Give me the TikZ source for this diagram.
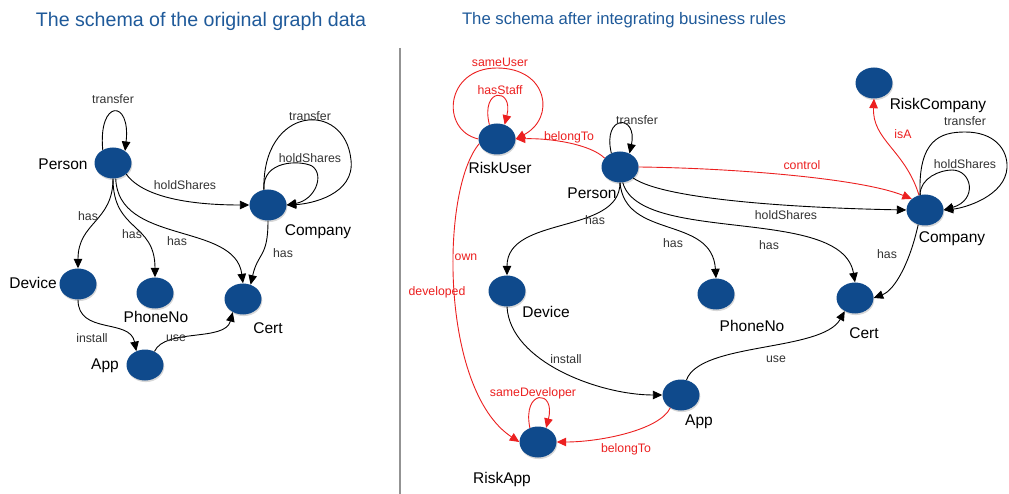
\documentclass[tikz,border=0pt]{standalone}
\usepackage{fontspec}
\setmainfont{Liberation Sans}
\usetikzlibrary{shapes.geometric,arrows.meta,shadows}
\definecolor{nodeblue}{HTML}{0F4A8C}
\definecolor{titleblue}{HTML}{1F5A9A}
\definecolor{rulered}{HTML}{EC2020}
\definecolor{labgray}{HTML}{333333}
\begin{document}
\begin{tikzpicture}[x=1pt,y=-1pt,
  nd/.style={ellipse,fill=nodeblue,minimum width=37pt,minimum height=31pt,inner sep=0pt,
    drop shadow={shadow xshift=0.8pt,shadow yshift=-1.6pt,opacity=0.3,fill=gray}},
  nlab/.style={font=\fontsize{15.5}{17}\selectfont,text=black,inner sep=0pt},
  elab/.style={font=\fontsize{12.3}{14}\selectfont,text=labgray,inner sep=0pt},
  rlab/.style={font=\fontsize{12.3}{14}\selectfont,text=rulered,inner sep=0pt},
  ttl/.style={text=titleblue,inner sep=0pt},
  ed/.style={draw=black,line width=0.9pt,-{Triangle[length=9.5pt,width=8.5pt]}},
  red/.style={draw=rulered,line width=0.9pt,-{Triangle[length=9.5pt,width=8.5pt]}}]
\useasboundingbox (0,0) rectangle (1009,494);
\fill[white] (0,0) rectangle (1009,494);

% titles and divider
\node[ttl,font=\fontsize{19.6}{22}\selectfont] (t1) at (201,21) {The schema of the original graph data};
\node[ttl,font=\fontsize{16.7}{20}\selectfont] (t2) at (624,20) {The schema after integrating business rules};
\coordinate (dv1) at (400,48);
\coordinate (dv2) at (400,494);
\draw[draw=gray!85,line width=2.8pt] (dv1) -- (dv2);

% ---------------- left graph ----------------
\node[nd] (p1) at (113,163) {};
\node[nd] (c1) at (268,205) {};
\node[nd] (d1) at (78,284) {};
\node[nd] (ph1) at (155,293) {};
\node[nd] (ce1) at (243,299) {};
\node[nd] (a1) at (145,365) {};

\node[nlab] (lp1) at (63,164) {Person};
\node[nlab] (lc1) at (318,232) {Company};
\node[nlab] (ld1) at (33,283) {Device};
\node[nlab] (lph1) at (156,317) {PhoneNo};
\node[nlab] (lce1) at (268,328) {Cert};
\node[nlab] (la1) at (105,366) {App};

\draw[ed] (p1.128) .. controls (98,99) and (131,99) .. (p1.45);
\node[elab] (e1) at (113,99) {transfer};
\draw[ed] (p1.-40) .. controls (145,200) and (200,205) .. (c1.west);
\node[elab] (e2) at (185,185) {holdShares};
\draw[ed] (c1.105) .. controls (262,105) and (345,100) .. (351,160) .. controls (355,195) and (310,204) .. (c1.east);
\node[elab] (e3) at (310,116) {transfer};
\draw[ed] (c1.105) .. controls (262,160) and (300,160) .. (312,166) .. controls (325,175) and (315,200) .. (c1.east);
\node[elab] (e4) at (310,158) {holdShares};
\draw[ed] (p1.south) .. controls (113,222) and (78,222) .. (d1.north);
\node[elab] (e5) at (88,216) {has};
\draw[ed] (p1.south) .. controls (113,232) and (155,222) .. (ph1.north);
\node[elab] (e6) at (132,234) {has};
\draw[ed] (p1.-80) .. controls (118,245) and (235,222) .. (ce1.north);
\node[elab] (e7) at (177,241) {has};
\draw[ed] (c1.south) .. controls (268,258) and (258,252) .. (ce1.62);
\node[elab] (e8) at (283,253) {has};
\draw[ed] (d1.south) .. controls (78,335) and (130,318) .. (a1.122);
\node[elab] (e9) at (92,338) {install};
\draw[ed] (a1.55) .. controls (165,328) and (225,342) .. (ce1.-128);
\node[elab] (e10) at (176,338) {use};

% ---------------- right graph ----------------
\node[nd] (ru) at (497,139) {};
\node[nd] (p2) at (620,167) {};
\node[nd] (rc) at (874,83) {};
\node[nd] (c2) at (925,210) {};
\node[nd] (d2) at (507,291) {};
\node[nd] (ph2) at (716,294) {};
\node[nd] (ce2) at (855,298) {};
\node[nd] (a2) at (681,395) {};
\node[nd] (ra) at (538,442) {};

\node[nlab] (lru) at (500,168) {RiskUser};
\node[nlab] (lp2) at (592,193) {Person};
\node[nlab] (lrc) at (938,105) {RiskCompany};
\node[nlab] (lc2) at (952,239) {Company};
\node[nlab] (ld2) at (546,312) {Device};
\node[nlab] (lph2) at (752,326) {PhoneNo};
\node[nlab] (lce2) at (864,333) {Cert};
\node[nlab] (la2) at (699,422) {App};
\node[nlab] (lra) at (502,479) {RiskApp};

% red rules
\draw[red] (ru.118) .. controls (480,87) and (514,87) .. (ru.62);
\node[rlab] (r1) at (500,90) {hasStaff};
\draw[red] (ru.west) .. controls (440,130) and (445,68) .. (497,68) .. controls (548,68) and (556,118) .. (ru.east);
\node[rlab] (r2) at (500,62) {sameUser};
\draw[red] (p2.150) .. controls (590,144) and (550,138) .. (ru.east);
\node[rlab] (r3) at (569,137) {belongTo};
\draw[red] (p2.east) .. controls (730,168) and (860,178) .. (c2.140);
\node[rlab] (r4) at (802,165) {control};
\draw[red] (c2.112) .. controls (905,150) and (872,140) .. (rc.south);
\node[rlab] (r5) at (903,134) {isA};
\draw[red] (a2.-130) .. controls (660,430) and (600,442) .. (ra.east);
\node[rlab] (r6) at (626,449) {belongTo};
\draw[red] (ru.-165) .. controls (440,190) and (440,390) .. (ra.west);
\node[rlab] (r7) at (466,257) {own};
\node[rlab] (r8) at (437,292) {developed};
\draw[red] (ra.120) .. controls (522,389) and (556,389) .. (ra.60);
\node[rlab] (r9) at (533,393) {sameDeveloper};

% black edges
\draw[ed] (p2.122) .. controls (602,114) and (638,114) .. (p2.55);
\node[elab] (b1) at (637,120) {transfer};
\draw[ed] (p2.-40) .. controls (665,200) and (800,208) .. (c2.west);
\node[elab] (b2) at (786,215) {holdShares};
\draw[ed] (c2.108) .. controls (918,140) and (940,132) .. (965,132) .. controls (995,132) and (1008,150) .. (1007,168) .. controls (1005,196) and (965,208) .. (c2.east);
\node[elab] (b3) at (965,121) {transfer};
\draw[ed] (c2.108) .. controls (920,178) and (940,170) .. (952,170) .. controls (972,170) and (978,200) .. (c2.east);
\node[elab] (b4) at (965,164) {holdShares};
\draw[ed] (c2.-115) .. controls (910,262) and (895,290) .. (ce2.east);
\node[elab] (b5) at (887,254) {has};
\draw[ed] (p2.south) .. controls (620,235) and (507,215) .. (d2.north);
\node[elab] (b6) at (595,220) {has};
\draw[ed] (p2.south) .. controls (625,240) and (712,215) .. (ph2.north);
\node[elab] (b7) at (673,243) {has};
\draw[ed] (p2.-80) .. controls (640,245) and (842,205) .. (ce2.north);
\node[elab] (b8) at (769,245) {has};
\draw[ed] (d2.south) .. controls (510,362) and (600,395) .. (a2.west);
\node[elab] (b9) at (566,359) {install};
\draw[ed] (a2.70) .. controls (700,342) and (822,352) .. (ce2.-128);
\node[elab] (b10) at (776,359) {use};
\end{tikzpicture}
\end{document}
